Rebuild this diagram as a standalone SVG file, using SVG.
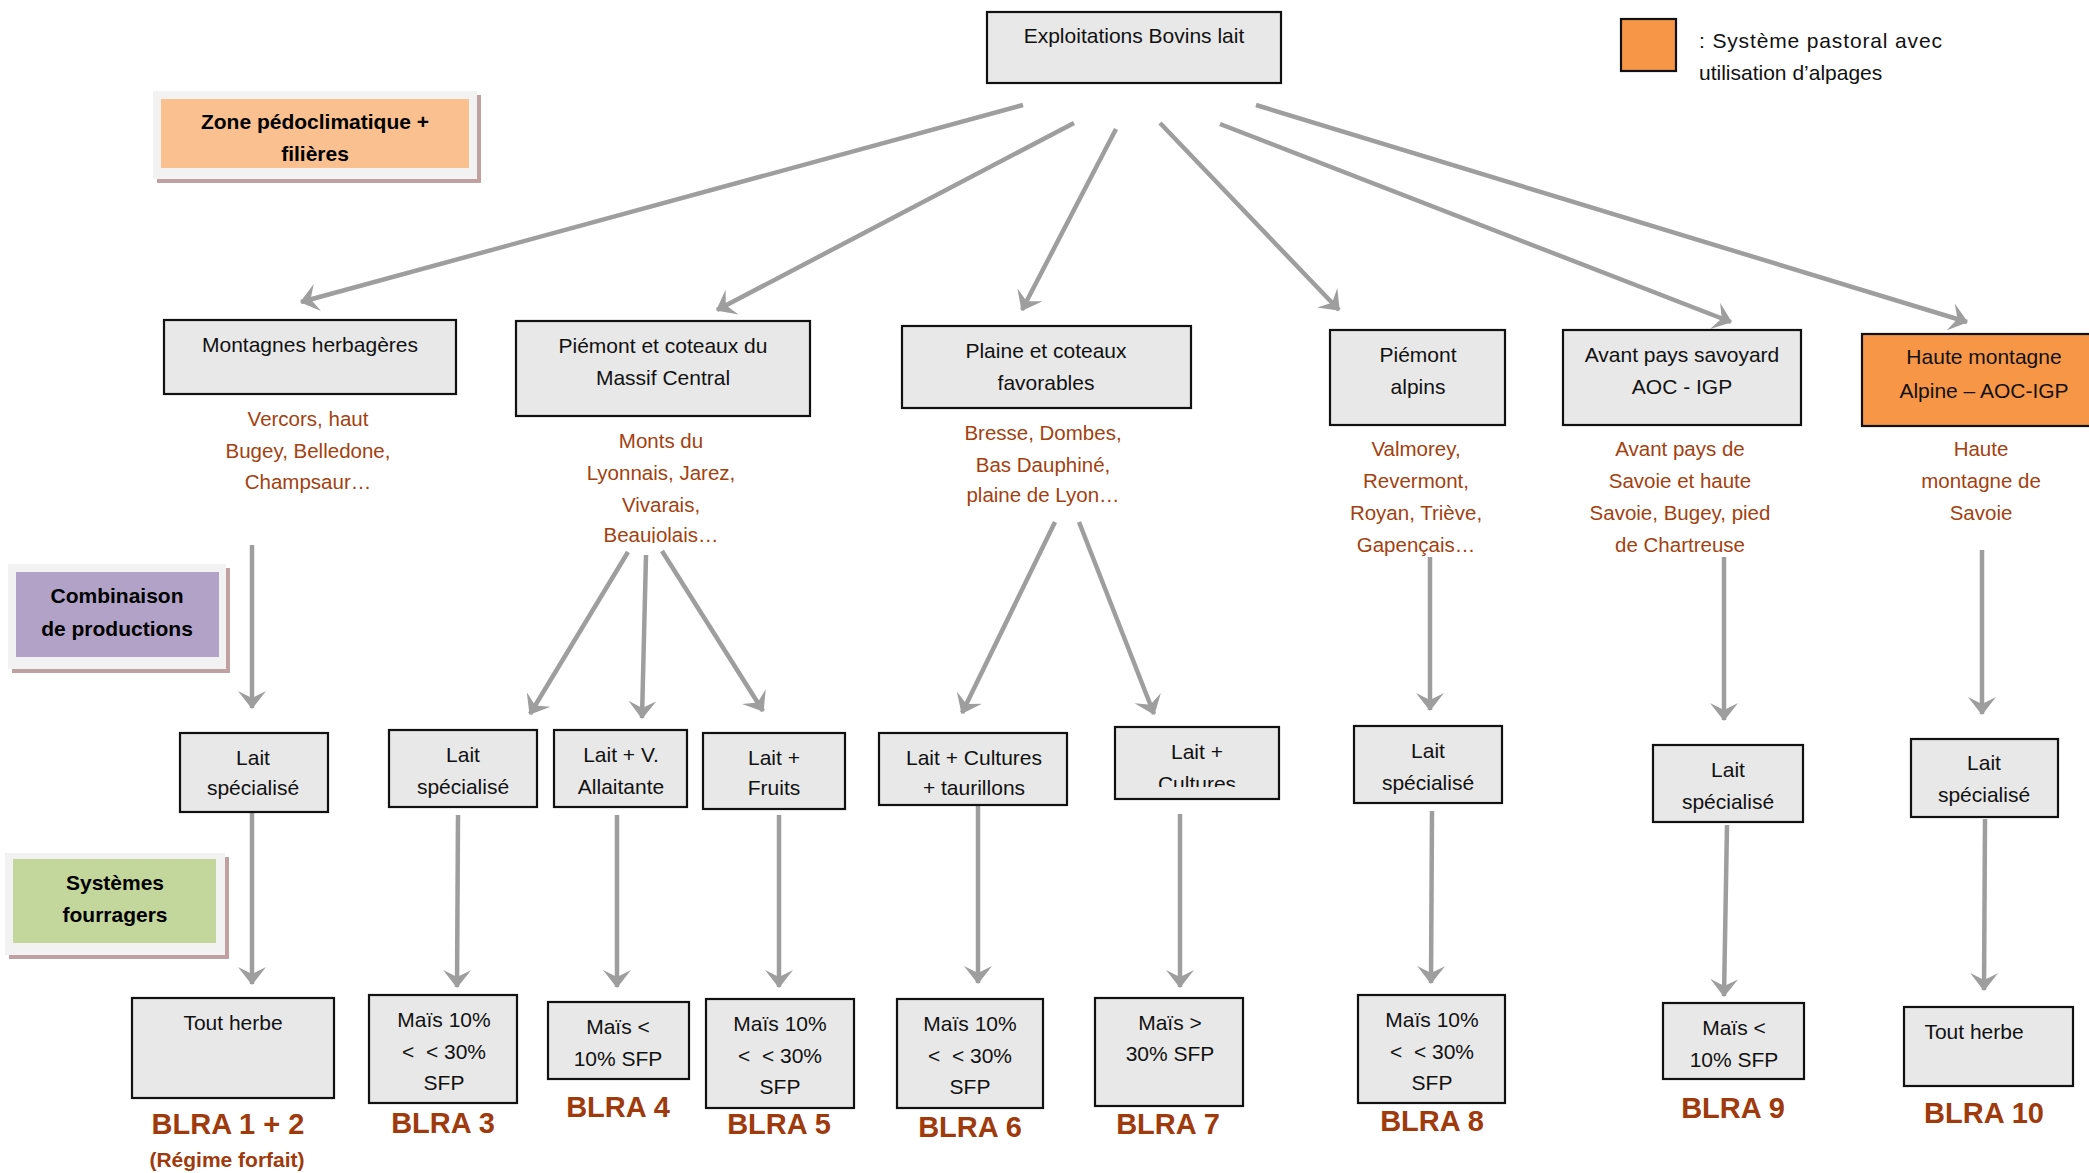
<svg xmlns="http://www.w3.org/2000/svg" width="2089" height="1173" viewBox="0 0 2089 1173">
<style>
  .box { fill: #e8e8e8; stroke: #111; stroke-width: 2.2; }
  .orange { fill: #f79646; stroke: #111; stroke-width: 2.2; }
  .t { font-family: "Liberation Sans", Arial, sans-serif; font-size: 21px; fill: #111; text-anchor: middle; }
  .r { font-family: "Liberation Sans", Arial, sans-serif; font-size: 20.5px; fill: #a3410f; text-anchor: middle; }
  .blra { font-family: "Liberation Sans", Arial, sans-serif; font-size: 29px; font-weight: bold; fill: #9e3a0c; text-anchor: middle; }
  .lab { font-family: "Liberation Sans", Arial, sans-serif; font-size: 21px; font-weight: bold; fill: #000; text-anchor: middle; }
  .frame { fill: #f2f2f2; }
  .shadow { fill: #c0a0a0; }
  .arr { stroke: #9e9e9e; stroke-width: 4.5; fill: none; marker-end: url(#ah); }
</style>
<defs>
  <marker id="ah" markerUnits="userSpaceOnUse" viewBox="0 0 18 28" refX="17" refY="14" markerWidth="18" markerHeight="28" orient="auto">
    <path d="M0,0 L18,14 L0,28 L7,14 Z" fill="#9e9e9e"/>
  </marker>
  <clipPath id="clipBeau"><rect x="500" y="420" width="320" height="123"/></clipPath>
  <clipPath id="clipCult"><rect x="1115" y="727" width="164" height="60"/></clipPath>
</defs>
<rect width="2089" height="1173" fill="#fff"/>

<!-- Legend -->
<g id="legend">
  <rect x="1621" y="19" width="55" height="52" class="orange"/>
  <text x="1699" y="48" class="t" style="text-anchor:start" textLength="243" lengthAdjust="spacing">: Système pastoral avec</text>
  <text x="1699" y="80" class="t" style="text-anchor:start">utilisation d’alpages</text>
</g>

<!-- Left category labels -->
<g id="label-zone">
  <rect x="157" y="95" width="324" height="88" class="shadow"/>
  <rect x="153" y="91" width="324" height="88" class="frame"/>
  <rect x="161" y="99" width="308" height="69" fill="#fac090"/>
  <text x="315" y="129" class="lab">Zone pédoclimatique +</text>
  <text x="315" y="161" class="lab">filières</text>
</g>
<g id="label-combinaison">
  <rect x="12" y="568" width="218" height="105" class="shadow"/>
  <rect x="8" y="564" width="218" height="105" class="frame"/>
  <rect x="16" y="572" width="203" height="85" fill="#b2a2c7"/>
  <text x="117" y="603" class="lab">Combinaison</text>
  <text x="117" y="636" class="lab">de productions</text>
</g>
<g id="label-systemes">
  <rect x="9" y="857" width="220" height="102" class="shadow"/>
  <rect x="5" y="853" width="220" height="102" class="frame"/>
  <rect x="13" y="859" width="203" height="84" fill="#c3d69b"/>
  <text x="115" y="890" class="lab">Systèmes</text>
  <text x="115" y="922" class="lab">fourragers</text>
</g>

<!-- Connectors -->
<g id="connectors">
  <line x1="1023" y1="105" x2="301" y2="302" class="arr"/>
  <line x1="1074" y1="123" x2="717" y2="310" class="arr"/>
  <line x1="1116" y1="129" x2="1022" y2="310" class="arr"/>
  <line x1="1160" y1="123" x2="1339" y2="310" class="arr"/>
  <line x1="1220" y1="124" x2="1731" y2="322" class="arr"/>
  <line x1="1256" y1="105" x2="1967" y2="322" class="arr"/>

  <line x1="252" y1="545" x2="252" y2="708" class="arr"/>
  <line x1="628" y1="552" x2="530" y2="714" class="arr"/>
  <line x1="646" y1="555" x2="642" y2="718" class="arr"/>
  <line x1="662" y1="551" x2="763" y2="711" class="arr"/>
  <line x1="1055" y1="522" x2="962" y2="713" class="arr"/>
  <line x1="1079" y1="522" x2="1154" y2="714" class="arr"/>
  <line x1="1430" y1="557" x2="1430" y2="710" class="arr"/>
  <line x1="1724" y1="557" x2="1724" y2="720" class="arr"/>
  <line x1="1982" y1="550" x2="1982" y2="714" class="arr"/>

  <line x1="252" y1="812" x2="252" y2="984" class="arr"/>
  <line x1="458" y1="815" x2="457" y2="987" class="arr"/>
  <line x1="617" y1="815" x2="617" y2="987" class="arr"/>
  <line x1="779" y1="815" x2="779" y2="987" class="arr"/>
  <line x1="978" y1="805" x2="978" y2="983" class="arr"/>
  <line x1="1180" y1="814" x2="1180" y2="987" class="arr"/>
  <line x1="1432" y1="811" x2="1431" y2="983" class="arr"/>
  <line x1="1727" y1="825" x2="1724" y2="996" class="arr"/>
  <line x1="1985" y1="819" x2="1984" y2="990" class="arr"/>
</g>

<!-- Root -->
<g id="root">
  <rect x="987" y="12" width="294" height="71" class="box"/>
  <text x="1134" y="43" class="t">Exploitations Bovins lait</text>
</g>

<!-- Level 1: zones -->
<g id="zone-montagnes">
  <rect x="164" y="320" width="292" height="74" class="box"/>
  <text x="310" y="352" class="t">Montagnes herbagères</text>
  <text x="308" y="426" class="r">Vercors, haut</text>
  <text x="308" y="458" class="r">Bugey, Belledone,</text>
  <text x="308" y="489" class="r">Champsaur…</text>
</g>
<g id="zone-piemont-mc">
  <rect x="516" y="321" width="294" height="95" class="box"/>
  <text x="663" y="353" class="t">Piémont et coteaux du</text>
  <text x="663" y="385" class="t">Massif Central</text>
  <text x="661" y="448" class="r">Monts du</text>
  <text x="661" y="480" class="r">Lyonnais, Jarez,</text>
  <text x="661" y="512" class="r">Vivarais,</text>
  <text x="661" y="542" class="r" clip-path="url(#clipBeau)">Beaujolais…</text>
</g>
<g id="zone-plaine">
  <rect x="902" y="326" width="289" height="82" class="box"/>
  <text x="1046" y="358" class="t">Plaine et coteaux</text>
  <text x="1046" y="390" class="t">favorables</text>
  <text x="1043" y="440" class="r">Bresse, Dombes,</text>
  <text x="1043" y="472" class="r">Bas Dauphiné,</text>
  <text x="1043" y="502" class="r">plaine de Lyon…</text>
</g>
<g id="zone-piemont-alpins">
  <rect x="1330" y="330" width="175" height="95" class="box"/>
  <text x="1418" y="362" class="t">Piémont</text>
  <text x="1418" y="394" class="t">alpins</text>
  <text x="1416" y="456" class="r">Valmorey,</text>
  <text x="1416" y="488" class="r">Revermont,</text>
  <text x="1416" y="520" class="r">Royan, Triève,</text>
  <text x="1416" y="552" class="r">Gapençais…</text>
</g>
<g id="zone-avant-pays">
  <rect x="1563" y="330" width="238" height="95" class="box"/>
  <text x="1682" y="362" class="t">Avant pays savoyard</text>
  <text x="1682" y="394" class="t">AOC - IGP</text>
  <text x="1680" y="456" class="r">Avant pays de</text>
  <text x="1680" y="488" class="r">Savoie et haute</text>
  <text x="1680" y="520" class="r">Savoie, Bugey, pied</text>
  <text x="1680" y="552" class="r">de Chartreuse</text>
</g>
<g id="zone-haute-montagne">
  <rect x="1862" y="334" width="240" height="92" class="orange"/>
  <text x="1984" y="364" class="t">Haute montagne</text>
  <text x="1984" y="398" class="t">Alpine – AOC-IGP</text>
  <text x="1981" y="456" class="r">Haute</text>
  <text x="1981" y="488" class="r">montagne de</text>
  <text x="1981" y="520" class="r">Savoie</text>
</g>

<!-- Level 2: combinaisons -->
<g id="comb-1">
  <rect x="180" y="733" width="148" height="79" class="box"/>
  <text x="253" y="765" class="t">Lait</text>
  <text x="253" y="795" class="t">spécialisé</text>
</g>
<g id="comb-3">
  <rect x="389" y="730" width="148" height="77" class="box"/>
  <text x="463" y="762" class="t">Lait</text>
  <text x="463" y="794" class="t">spécialisé</text>
</g>
<g id="comb-4">
  <rect x="554" y="730" width="133" height="77" class="box"/>
  <text x="621" y="762" class="t">Lait + V.</text>
  <text x="621" y="794" class="t">Allaitante</text>
</g>
<g id="comb-5">
  <rect x="703" y="733" width="142" height="76" class="box"/>
  <text x="774" y="765" class="t">Lait +</text>
  <text x="774" y="795" class="t">Fruits</text>
</g>
<g id="comb-6">
  <rect x="879" y="733" width="188" height="72" class="box"/>
  <text x="974" y="765" class="t">Lait + Cultures</text>
  <text x="974" y="795" class="t">+ taurillons</text>
</g>
<g id="comb-7">
  <rect x="1115" y="727" width="164" height="72" class="box"/>
  <text x="1197" y="759" class="t">Lait +</text>
  <text x="1197" y="791" class="t" clip-path="url(#clipCult)">Cultures</text>
</g>
<g id="comb-8">
  <rect x="1354" y="726" width="148" height="77" class="box"/>
  <text x="1428" y="758" class="t">Lait</text>
  <text x="1428" y="790" class="t">spécialisé</text>
</g>
<g id="comb-9">
  <rect x="1653" y="745" width="150" height="77" class="box"/>
  <text x="1728" y="777" class="t">Lait</text>
  <text x="1728" y="809" class="t">spécialisé</text>
</g>
<g id="comb-10">
  <rect x="1911" y="739" width="147" height="78" class="box"/>
  <text x="1984" y="770" class="t">Lait</text>
  <text x="1984" y="802" class="t">spécialisé</text>
</g>

<!-- Level 3: systèmes fourragers -->
<g id="sys-1-2">
  <rect x="132" y="998" width="202" height="100" class="box"/>
  <text x="233" y="1030" class="t">Tout herbe</text>
  <text x="228" y="1134" class="blra">BLRA 1 + 2</text>
  <text x="227" y="1167" class="blra" style="font-size:21px">(Régime forfait)</text>
</g>
<g id="sys-3">
  <rect x="369" y="995" width="148" height="108" class="box"/>
  <text x="444" y="1027" class="t">Maïs 10%</text>
  <text x="444" y="1059" class="t">&lt;&#160;&#160;&lt; 30%</text>
  <text x="444" y="1090" class="t">SFP</text>
  <text x="443" y="1133" class="blra">BLRA 3</text>
</g>
<g id="sys-4">
  <rect x="548" y="1002" width="141" height="77" class="box"/>
  <text x="618" y="1034" class="t">Maïs &lt;</text>
  <text x="618" y="1066" class="t">10% SFP</text>
  <text x="618" y="1117" class="blra">BLRA 4</text>
</g>
<g id="sys-5">
  <rect x="706" y="999" width="148" height="109" class="box"/>
  <text x="780" y="1031" class="t">Maïs 10%</text>
  <text x="780" y="1063" class="t">&lt;&#160;&#160;&lt; 30%</text>
  <text x="780" y="1094" class="t">SFP</text>
  <text x="779" y="1134" class="blra">BLRA 5</text>
</g>
<g id="sys-6">
  <rect x="897" y="999" width="146" height="109" class="box"/>
  <text x="970" y="1031" class="t">Maïs 10%</text>
  <text x="970" y="1063" class="t">&lt;&#160;&#160;&lt; 30%</text>
  <text x="970" y="1094" class="t">SFP</text>
  <text x="970" y="1137" class="blra">BLRA 6</text>
</g>
<g id="sys-7">
  <rect x="1095" y="998" width="148" height="108" class="box"/>
  <text x="1170" y="1030" class="t">Maïs &gt;</text>
  <text x="1170" y="1061" class="t">30% SFP</text>
  <text x="1168" y="1134" class="blra">BLRA 7</text>
</g>
<g id="sys-8">
  <rect x="1358" y="995" width="147" height="108" class="box"/>
  <text x="1432" y="1027" class="t">Maïs 10%</text>
  <text x="1432" y="1059" class="t">&lt;&#160;&#160;&lt; 30%</text>
  <text x="1432" y="1090" class="t">SFP</text>
  <text x="1432" y="1131" class="blra">BLRA 8</text>
</g>
<g id="sys-9">
  <rect x="1663" y="1003" width="141" height="76" class="box"/>
  <text x="1734" y="1035" class="t">Maïs &lt;</text>
  <text x="1734" y="1067" class="t">10% SFP</text>
  <text x="1733" y="1118" class="blra">BLRA 9</text>
</g>
<g id="sys-10">
  <rect x="1904" y="1007" width="169" height="79" class="box"/>
  <text x="1974" y="1039" class="t">Tout herbe</text>
  <text x="1984" y="1123" class="blra">BLRA 10</text>
</g>
</svg>
